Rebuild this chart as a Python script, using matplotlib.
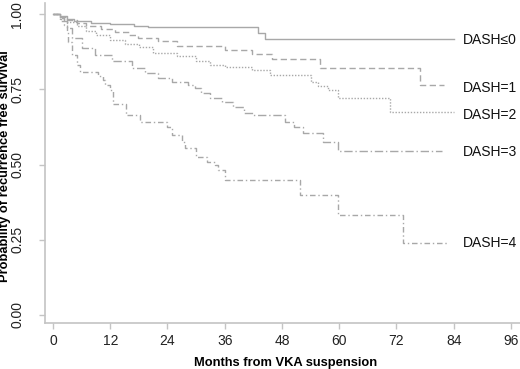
import numpy as np
import matplotlib as mpl
mpl.use('Agg')
import matplotlib.pyplot as plt
from matplotlib import rcParams as rc

rc.update({'font.size': 10, 'font.family': ['Liberation Sans', 'DejaVu Sans']})

# step curves: time (months) where each value starts, last time = end of follow-up
dash0_t = [0, 1.5, 3, 4.5, 8, 12, 17, 20, 43, 44.5, 84]
dash0_s = [1.0, 0.993, 0.985, 0.978, 0.972, 0.967, 0.962, 0.956, 0.937, 0.918, 0.918]

dash1_t = [0, 1.5, 3, 5, 7, 10, 13, 16, 17.8, 22, 26, 36, 41.7, 46, 56, 77, 82]
dash1_s = [1.0, 0.99, 0.98, 0.97, 0.96, 0.95, 0.94, 0.93, 0.92, 0.91, 0.895, 0.88, 0.868, 0.85, 0.82, 0.764, 0.764]

dash2_t = [0, 1.5, 3, 5, 7, 9, 12, 15, 18, 21, 26, 30, 33, 36, 41.7, 45.5, 54, 55.5, 57.6, 59.7, 70.6, 84]
dash2_s = [1.0, 0.985, 0.975, 0.96, 0.945, 0.93, 0.914, 0.9, 0.89, 0.87, 0.86, 0.845, 0.832, 0.825, 0.813, 0.797,
           0.775, 0.76, 0.748, 0.72, 0.675, 0.675]

dash3_t = [0, 1.5, 2.9, 3.9, 6, 8.8, 12.3, 16.5, 19.3, 22, 24.9, 28.3, 29.8, 31, 33, 35.4, 37.8, 40, 42,
           48.6, 50.5, 52.5, 56.6, 59.7, 81.5]
dash3_s = [1.0, 0.976, 0.953, 0.92, 0.887, 0.865, 0.843, 0.82, 0.804, 0.787, 0.774, 0.765, 0.754, 0.737, 0.72,
           0.709, 0.691, 0.671, 0.664, 0.642, 0.626, 0.604, 0.576, 0.546, 0.546]

dash4_t = [0, 1.5, 2.3, 2.9, 3.2, 3.9, 5, 5.7, 9.4, 10.5, 11, 12, 12.6, 15.2, 18.2, 24, 25, 27, 27.6, 30,
           32.3, 34, 34.6, 36, 51.8, 59.7, 73.4, 82.6]
dash4_s = [1.0, 0.987, 0.965, 0.942, 0.909, 0.865, 0.832, 0.807, 0.795, 0.78, 0.765, 0.747, 0.702, 0.664,
           0.642, 0.625, 0.598, 0.575, 0.555, 0.525, 0.508, 0.498, 0.482, 0.448, 0.40, 0.332, 0.239, 0.239]

labels = ['DASH\u22640', 'DASH=1', 'DASH=2', 'DASH=3', 'DASH=4']
label_y = [0.915, 0.754, 0.664, 0.541, 0.239]
xticks = [0, 12, 24, 36, 48, 60, 72, 84, 96]
yticks = [0.0, 0.25, 0.5, 0.75, 1.0]

curves = [(dash0_t, dash0_s, '-'),
          (dash1_t, dash1_s, (0, (4.5, 2.5))),
          (dash2_t, dash2_s, (0, (1, 1.2))),
          (dash3_t, dash3_s, (0, (6, 2, 1, 2))),
          (dash4_t, dash4_s, (0, (4, 2, 1, 2)))]

linecol = '#a8a8a8'
axcol = '#c4c4c4'

fig = plt.figure(figsize=(5.2, 3.69), dpi=100)
a = fig.add_axes([45/520, 46/369, 475/520, 320/369])
for t, s, ls in curves:
    a.step(t, s, where='post', color=linecol, linestyle=ls, linewidth=1)
for lab, yy in zip(labels, label_y):
    a.text(86, yy, lab, ha='left', va='center', fontsize=10, color='#111111', clip_on=False)

a.set_xlim(-1.68, 97.9)
a.set_ylim(-0.0266, 1.037)
a.set_xticks(xticks)
a.set_xticklabels([str(v) for v in xticks])
a.set_yticks(yticks)
a.set_yticklabels(['%.2f' % v for v in yticks], rotation=90, va='center')
for sp in ['top', 'right']:
    a.spines[sp].set_visible(False)
for sp in ['left', 'bottom']:
    a.spines[sp].set_color(axcol)
    a.spines[sp].set_linewidth(1.2)
a.tick_params(axis='both', colors=axcol, labelcolor='#222222', length=4, width=1, labelsize=10)
a.tick_params(axis='x', pad=4)
a.tick_params(axis='y', pad=11)
a.set_xlabel('Months from VKA suspension', fontweight='bold', fontsize=9.3)
a.set_ylabel('Probability of recurrence free survival', fontweight='bold', fontsize=9.3)
a.xaxis.set_label_coords(0.507, -0.106)
a.yaxis.set_label_coords(-0.072, 0.49)

plt.savefig('out.png', dpi=100)
plt.close()
